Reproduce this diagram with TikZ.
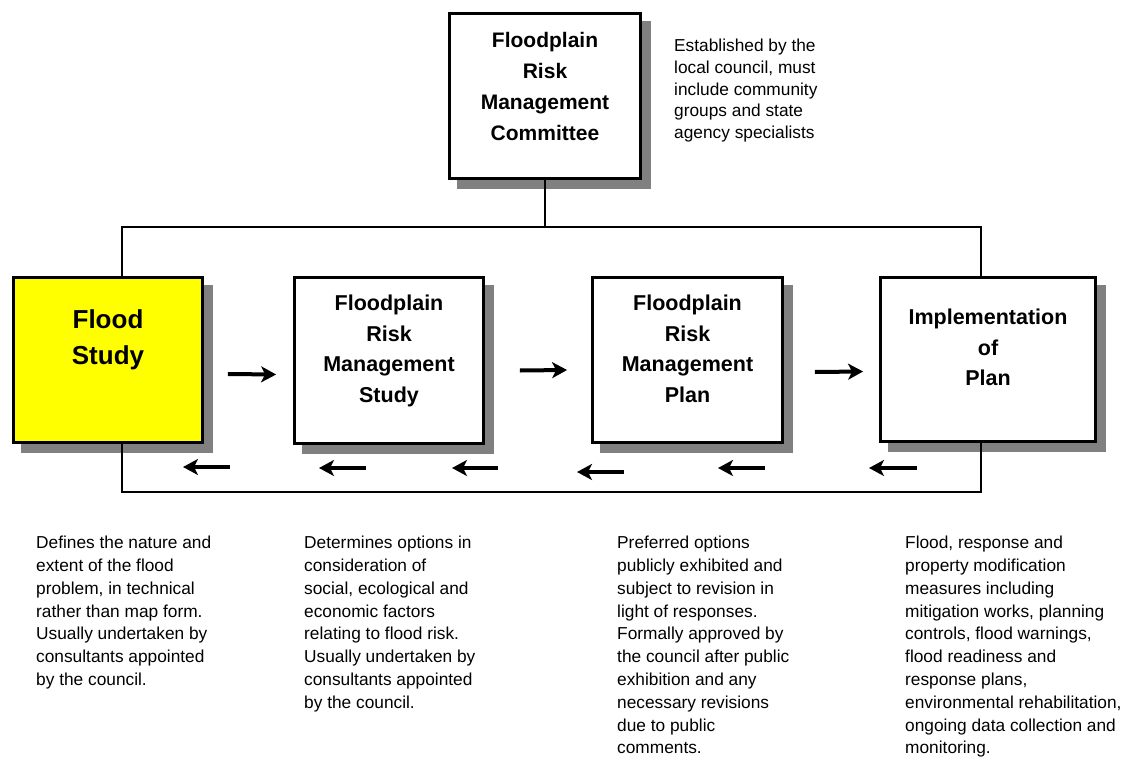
\documentclass[tikz,border=0pt]{standalone}
\usepackage{fontspec}
\setmainfont{Liberation Sans}
\usetikzlibrary{arrows.meta,calc}
\pgfdeclarelayer{shadowlayer}
\pgfdeclarelayer{looplayer}
\pgfsetlayers{shadowlayer,looplayer,main}
\definecolor{shadowgray}{RGB}{128,128,128}
\definecolor{floodyellow}{RGB}{255,255,0}
\begin{document}
\begin{tikzpicture}[x=1pt,y=-1pt,
  stage/.style={draw=black, line width=2.8pt, fill=white, inner sep=0pt},
  boxtext/.style={anchor=north, align=center, inner sep=0pt, font=\bfseries\fontsize{21.5}{30.5}\selectfont},
  note/.style={anchor=north west, align=left, inner sep=0pt, font=\fontsize{17.3}{22.8}\selectfont},
  loopline/.style={line width=2.8pt, line join=miter},
  flowarrow/.style={line width=4pt, -{Stealth[length=15pt,width=16pt,inset=4pt]}},
]
\useasboundingbox (0,0) rectangle (1127,768);

% boxes
\node[stage, minimum width=191pt, minimum height=165pt] (committee) at (545,96) {};
\node[stage, fill=floodyellow, minimum width=189pt, minimum height=165pt] (flood) at (108,360) {};
\node[stage, minimum width=189pt, minimum height=166pt] (study) at (389,360.5) {};
\node[stage, minimum width=190pt, minimum height=165pt] (plan) at (687.5,360) {};
\node[stage, minimum width=215pt, minimum height=164pt] (impl) at (988,359.5) {};

% box texts
\node[boxtext, font=\bfseries\fontsize{21}{31}\selectfont] (committeetext) at (545,32) {Floodplain\\Risk\\Management\\Committee};
\node[boxtext, font=\bfseries\fontsize{26}{36}\selectfont] (floodtext) at (108,309) {Flood\\Study};
\node[boxtext] (studytext) at (389,295) {Floodplain\\Risk\\Management\\Study};
\node[boxtext] (plantext) at (687.5,295) {Floodplain\\Risk\\Management\\Plan};
\node[boxtext] (impltext) at (988,309) {Implementation\\of\\Plan};

% notes
\node[note, font=\fontsize{17.3}{21.7}\selectfont] (committeenote) at (674,39) {Established by the\\local council, must\\include community\\groups and state\\agency specialists};
\node[note] (floodnote) at (36,536) {Defines the nature and\\extent of the flood\\problem, in technical\\rather than map form.\\Usually undertaken by\\consultants appointed\\by the council.};
\node[note] (studynote) at (304,536) {Determines options in\\consideration of\\social, ecological and\\economic factors\\relating to flood risk.\\Usually undertaken by\\consultants appointed\\by the council.};
\node[note] (plannote) at (617,536) {Preferred options\\publicly exhibited and\\subject to revision in\\light of responses.\\Formally approved by\\the council after public\\exhibition and any\\necessary revisions\\due to public\\comments.};
\node[note] (implnote) at (905,536) {Flood, response and\\property modification\\measures including\\mitigation works, planning\\controls, flood warnings,\\flood readiness and\\response plans,\\environmental rehabilitation,\\ongoing data collection and\\monitoring.};

% forward arrows
\draw[flowarrow] ($(flood.east)+(24,14)$) -- ($(study.west)+(-17,14)$);
\draw[flowarrow] ($(study.east)+(35,10)$) -- ($(plan.west)+(-24,10)$);
\draw[flowarrow] ($(plan.east)+(31,12)$) -- ($(impl.west)+(-16,12)$);

% feedback arrows
\draw[flowarrow] (230,467) -- (183,467);
\draw[flowarrow] (366,468) -- (319,468);
\draw[flowarrow] (498,468) -- (452,468);
\draw[flowarrow] (624,472) -- (577,472);
\draw[flowarrow] (765,468) -- (718,468);
\draw[flowarrow] (917,468) -- (869,468);

% loop lines
\begin{pgfonlayer}{looplayer}
\coordinate (looptl) at (122,227);
\coordinate (loopbr) at (981,492);
\draw[loopline] (looptl) rectangle (loopbr);
\draw[loopline] (committee.south) -- (committee.south |- looptl);
\end{pgfonlayer}

% shadows
\begin{pgfonlayer}{shadowlayer}
\foreach \n in {committee,flood,study,plan,impl}
  \fill[shadowgray] ($(\n.south west)+(9,9)$) rectangle ($(\n.north east)+(9,9)$);
\end{pgfonlayer}
\end{tikzpicture}
\end{document}
